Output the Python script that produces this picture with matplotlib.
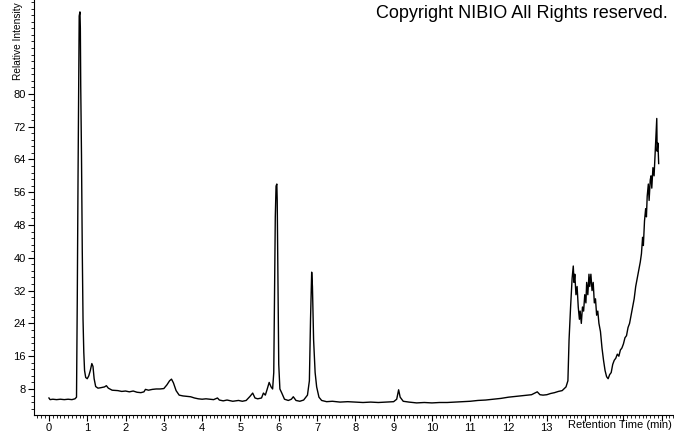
import matplotlib
matplotlib.use('Agg')
import matplotlib.pyplot as plt
from matplotlib.ticker import MultipleLocator

plt.rcParams['font.family'] = ['Liberation Sans', 'DejaVu Sans']

# retention time (min) and relative intensity
rt = [0.00, 0.03, 0.10, 0.20, 0.30, 0.40, 0.50, 0.60, 0.68, 0.72,
      0.74, 0.76, 0.78, 0.79, 0.81, 0.82, 0.83, 0.85, 0.87, 0.89,
      0.91, 0.93, 0.96, 1.00, 1.04, 1.08, 1.12, 1.15, 1.18, 1.22,
      1.28, 1.35, 1.45, 1.50, 1.55, 1.65, 1.80, 1.90, 2.00, 2.10,
      2.20, 2.30, 2.40, 2.48, 2.52, 2.60, 2.70, 2.80, 2.90, 3.00,
      3.08, 3.15, 3.20, 3.25, 3.32, 3.40, 3.50, 3.60, 3.70, 3.80,
      3.90, 4.00, 4.10, 4.20, 4.30, 4.40, 4.45, 4.55, 4.65, 4.80,
      4.95, 5.05, 5.15, 5.25, 5.32, 5.38, 5.45, 5.55, 5.60, 5.65,
      5.70, 5.75, 5.80, 5.84, 5.87, 5.89, 5.91, 5.93, 5.95, 5.96,
      5.98, 6.00, 6.03, 6.08, 6.15, 6.25, 6.33, 6.38, 6.45, 6.55,
      6.65, 6.75, 6.80, 6.83, 6.86, 6.88, 6.91, 6.95, 6.99, 7.05,
      7.12, 7.25, 7.40, 7.60, 7.80, 8.00, 8.20, 8.40, 8.60, 8.80,
      9.00, 9.08, 9.13, 9.17, 9.25, 9.40, 9.60, 9.80, 10.0, 10.2,
      10.4, 10.6, 10.8, 11.0, 11.2, 11.4, 11.6, 11.8, 12.0, 12.2,
      12.4, 12.6, 12.75, 12.82, 12.9, 13.0, 13.1, 13.2, 13.3, 13.4,
      13.5, 13.55, 13.58, 13.62, 13.66, 13.69, 13.71, 13.73, 13.76, 13.79,
      13.82, 13.85, 13.87, 13.90, 13.93, 13.96, 13.99, 14.02, 14.04, 14.07,
      14.10, 14.12, 14.15, 14.18, 14.21, 14.24, 14.27, 14.30, 14.33, 14.36,
      14.40, 14.44, 14.48, 14.52, 14.56, 14.60, 14.64, 14.68, 14.72, 14.76,
      14.80, 14.84, 14.88, 14.92, 14.96, 15.00, 15.04, 15.08, 15.12, 15.16,
      15.20, 15.24, 15.28, 15.32, 15.36, 15.40, 15.44, 15.47, 15.50, 15.52,
      15.55, 15.58, 15.60, 15.62, 15.65, 15.67, 15.70, 15.72, 15.74, 15.77,
      15.80, 15.83, 15.85, 15.87, 15.88, 15.90, 15.92]
intensity = [5.8, 5.4, 5.5, 5.4, 5.5, 5.4, 5.5, 5.4, 5.6, 6.0,
             30, 60, 85, 99, 100, 96, 82, 65, 42, 25,
             17, 12.5, 10.8, 10.5, 11.2, 12.5, 14.2, 13.5, 10.5, 8.6,
             8.2, 8.3, 8.5, 8.8, 8.2, 7.7, 7.6, 7.4, 7.5, 7.3,
             7.5, 7.2, 7.1, 7.3, 7.9, 7.7, 7.9, 8.0, 8.0, 8.1,
             9.0, 10.0, 10.4, 9.5, 7.6, 6.5, 6.3, 6.2, 6.1, 5.8,
             5.6, 5.5, 5.6, 5.5, 5.4, 5.8, 5.3, 5.1, 5.3, 5.0,
             5.2, 5.0, 5.2, 6.2, 7.0, 5.8, 5.6, 5.8, 7.0, 6.5,
             8.0, 9.6, 8.5, 8.0, 12, 30, 50, 57.5, 58, 54,
             35, 14, 8.0, 7.0, 5.5, 5.2, 5.5, 6.1, 5.2, 5.0,
             5.3, 6.5, 10, 25, 36.5, 33, 20, 12, 8.5, 6.0,
             5.2, 4.9, 5.0, 4.8, 4.9, 4.8, 4.7, 4.8, 4.7, 4.8,
             4.9, 5.5, 7.8, 6.0, 5.0, 4.8, 4.6, 4.7, 4.6, 4.7,
             4.7, 4.8, 4.9, 5.0, 5.2, 5.3, 5.5, 5.7, 6.0, 6.2,
             6.4, 6.6, 7.3, 6.6, 6.5, 6.6, 6.9, 7.1, 7.4, 7.6,
             8.5, 10, 20, 28, 35, 38, 34, 36, 31, 33,
             28, 25, 27, 24, 28, 27, 31, 29, 34, 31,
             36, 33, 36, 32, 34, 29, 30, 26, 27, 24,
             22, 18, 15, 12.5, 11, 10.5, 11.5, 12, 14, 15,
             15.5, 16.5, 16, 17.5, 18, 19, 20.5, 21, 23, 24,
             26, 28, 30, 33, 35, 37, 39, 41, 45, 43,
             49, 52, 50, 55, 58, 54, 59, 60, 57, 62,
             60, 66, 70, 74, 66, 68, 63]

ytick_vals = [8, 16, 24, 32, 40, 48, 56, 64, 72, 80]
xtick_vals = list(range(0, 17))
xtick_labels = [str(v) if v <= 13 else '' for v in xtick_vals]

fig = plt.figure(figsize=(6.74, 4.34), dpi=100)
ax = fig.add_axes([34 / 674, 19 / 434, 1 - 34 / 674, 1 - 19 / 434])

ax.plot(rt, intensity, color='black', lw=1.0)

ax.set_xlim(-0.39, 16.32)
ax.set_ylim(1.65, 102.9)

ax.set_xticks(xtick_vals)
ax.set_xticklabels(xtick_labels)
ax.set_yticks(ytick_vals)
ax.xaxis.set_minor_locator(MultipleLocator(0.1))
ax.yaxis.set_minor_locator(MultipleLocator(1.6))
ax.tick_params(axis='both', which='major', length=4, width=0.8,
               labelsize=8, colors='black', pad=2)
ax.tick_params(axis='both', which='minor', length=2, width=0.6)

ax.spines['top'].set_visible(False)
ax.spines['right'].set_visible(False)
for s in ['left', 'bottom']:
    ax.spines[s].set_linewidth(0.8)

fig.text(18 / 674, 1 - 2 / 434, 'Relative Intensity', rotation=90,
         ha='center', va='top', fontsize=7.3)
fig.text(672 / 674, 1 - 425 / 434, 'Retention Time (min)',
         ha='right', va='center', fontsize=8)
fig.text(668 / 674, 1 - 14 / 434, 'Copyright NIBIO All Rights reserved.',
         ha='right', va='center', fontsize=13)

fig.savefig('out.png', dpi=100)
